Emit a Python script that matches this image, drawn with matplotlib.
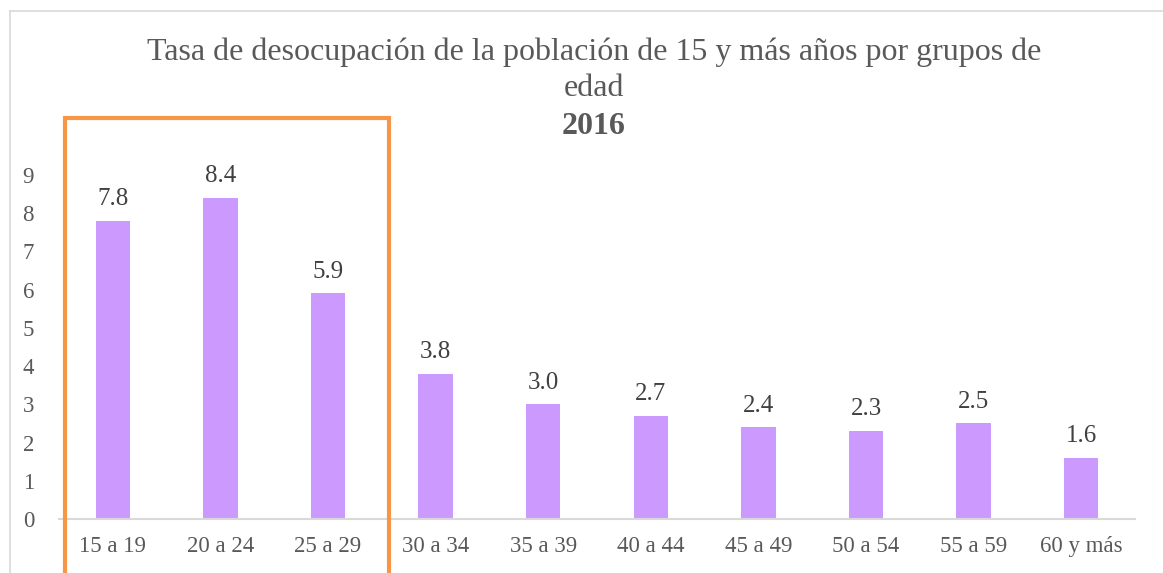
import matplotlib.pyplot as plt
from matplotlib.patches import Rectangle
from matplotlib.lines import Line2D

# Datos
grupos = ['15 a 19', '20 a 24', '25 a 29', '30 a 34', '35 a 39',
          '40 a 44', '45 a 49', '50 a 54', '55 a 59', '60 y más']
tasas = [7.8, 8.4, 5.9, 3.8, 3.0, 2.7, 2.4, 2.3, 2.5, 1.6]
marcados = 3  # grupos dentro del recuadro naranja

W, H = 1163, 573
gris = '#595959'
plt.rcParams['font.family'] = ['Liberation Serif', 'DejaVu Serif']

fig = plt.figure(figsize=(W / 100, H / 100), dpi=100)
ax = fig.add_axes([59 / W, 54 / H, (1135 - 59) / W, (519 - 175) / H])

x = range(len(grupos))
ax.bar(x, tasas, width=0.32, color='#CC99FF')
for xi, v in zip(x, tasas):
    ax.text(xi, v + 0.28, f'{v:.1f}', ha='center', va='bottom',
            fontsize=18, color='#404040')

ax.set_xlim(-0.5, len(grupos) - 0.5)
ax.set_ylim(0, 9)
ax.set_yticks(range(10))
ax.set_xticks(list(x))
ax.set_xticklabels(grupos)
ax.tick_params(length=0, labelsize=16.5, colors=gris)
ax.tick_params(axis='y', pad=18)
ax.tick_params(axis='x', pad=12)
for s in ['top', 'right', 'left']:
    ax.spines[s].set_visible(False)
ax.spines['bottom'].set_color('#D9D9D9')
ax.spines['bottom'].set_linewidth(1.5)

# recuadro naranja
ax.add_patch(Rectangle((-0.44, -3), marcados + 0.005, 13.5,
                       fill=False, edgecolor='#F79646', linewidth=3,
                       clip_on=False, zorder=5))

# título
fig.text(594 / W, 1 - 52 / H,
         'Tasa de desocupación de la población de 15 y más años por grupos de',
         ha='center', va='center', fontsize=23, color=gris)
fig.text(594 / W, 1 - 88 / H, 'edad', ha='center', va='center',
         fontsize=23, color=gris)
fig.text(594 / W, 1 - 127 / H, '2016', ha='center', va='center',
         fontsize=23, color=gris, fontweight='bold')

# borde del área del gráfico
fig.add_artist(Line2D([10 / W, 10 / W], [0, 1 - 11 / H], color='#D9D9D9', lw=1.2))
fig.add_artist(Line2D([10 / W, 1], [1 - 11 / H, 1 - 11 / H], color='#D9D9D9', lw=1.2))

fig.savefig('out.png', dpi=100)
